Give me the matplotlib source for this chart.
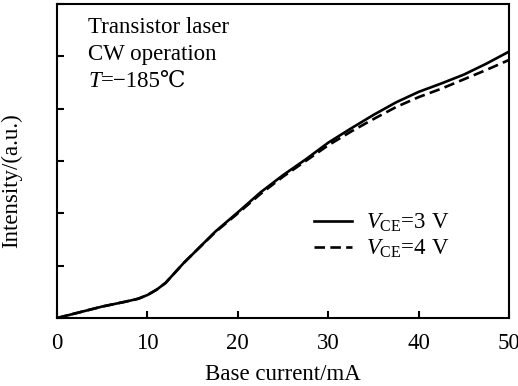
import matplotlib
matplotlib.use("Agg")
import matplotlib.pyplot as plt
import numpy as np

plt.rcParams['font.family'] = ['Liberation Serif', 'DejaVu Serif']
plt.rcParams['mathtext.fontset'] = 'custom'
plt.rcParams['mathtext.rm'] = 'Liberation Serif'
plt.rcParams['mathtext.it'] = 'Liberation Serif:italic'

# Data (base current in mA, intensity in a.u.)
current_3v = [0, 2.5, 5, 7.5, 9, 10, 11, 12, 13, 14, 15, 17.5, 20, 22.5, 25,
              27.5, 30, 32.5, 35, 37.5, 40, 42.5, 45, 47.5, 50]
intensity_3v = [0, 0.11, 0.22, 0.31, 0.37, 0.44, 0.54, 0.67, 0.86, 1.05, 1.22,
                1.65, 2.02, 2.40, 2.73, 3.03, 3.35, 3.62, 3.88, 4.12, 4.32,
                4.48, 4.65, 4.86, 5.09]
current_4v = [0, 2.5, 5, 7.5, 9, 10, 11, 12, 13, 14, 15, 17.5, 20, 22.5, 25,
              27.5, 30, 32.5, 35, 37.5, 40, 42.5, 45, 47.5, 50]
intensity_4v = [0, 0.11, 0.22, 0.31, 0.37, 0.44, 0.54, 0.67, 0.86, 1.05, 1.22,
                1.64, 2.00, 2.37, 2.70, 3.00, 3.30, 3.56, 3.80, 4.03, 4.22,
                4.38, 4.56, 4.74, 4.93]
labels = [r"$V_{\rm CE}$=3 V", r"$V_{\rm CE}$=4 V"]
x_ticks = [0, 10, 20, 30, 40, 50]
y_ticks = [0, 1, 2, 3, 4, 5, 6]

FS = 16.5

fig = plt.figure(figsize=(5.18, 3.86), dpi=100)
ax = fig.add_axes([0.110, 0.176, 0.873, 0.814])

ax.plot(current_3v, intensity_3v, color='black', lw=1.9, ls='-', label=labels[0])
ax.plot(current_4v, intensity_4v, color='black', lw=1.9, ls=(0, (4, 2)), label=labels[1])

ax.set_xlim(0, 50)
ax.set_ylim(0, 6)
ax.set_xticks(x_ticks)
ax.set_yticks(y_ticks)
ax.set_yticklabels([])
ax.tick_params(direction='in', length=5, width=1.5, labelsize=FS)
ax.tick_params(axis='x', pad=11)
for s in ax.spines.values():
    s.set_linewidth(1.5)

ax.set_xlabel("Base current/mA", fontsize=FS, labelpad=7)
ax.set_ylabel("Intensity/(a.u.)", fontsize=FS, labelpad=10)
ax.yaxis.set_label_coords(-0.078, 0.436)

leg = ax.legend(loc='upper left', bbox_to_anchor=(0.544, 0.374), frameon=False,
                fontsize=FS, handlelength=1.65, handletextpad=0.6,
                labelspacing=0.15, borderpad=0)

t1 = ax.text(0.069, 0.908, "Transistor laser", transform=ax.transAxes,
             fontsize=FS, va='baseline', ha='left')
t2 = ax.text(0.069, 0.822, "CW operation", transform=ax.transAxes,
             fontsize=FS, va='baseline', ha='left')
t3 = ax.text(0.069, 0.736, "T", transform=ax.transAxes, fontsize=FS,
             va='baseline', ha='left', style='italic')
ax.annotate("=\u2212185\u2103", xy=(1, 0), xycoords=t3, va='bottom', ha='left',
            fontsize=FS, family=['Liberation Serif', 'DejaVu Serif'])

fig.savefig("out.png", dpi=100)
